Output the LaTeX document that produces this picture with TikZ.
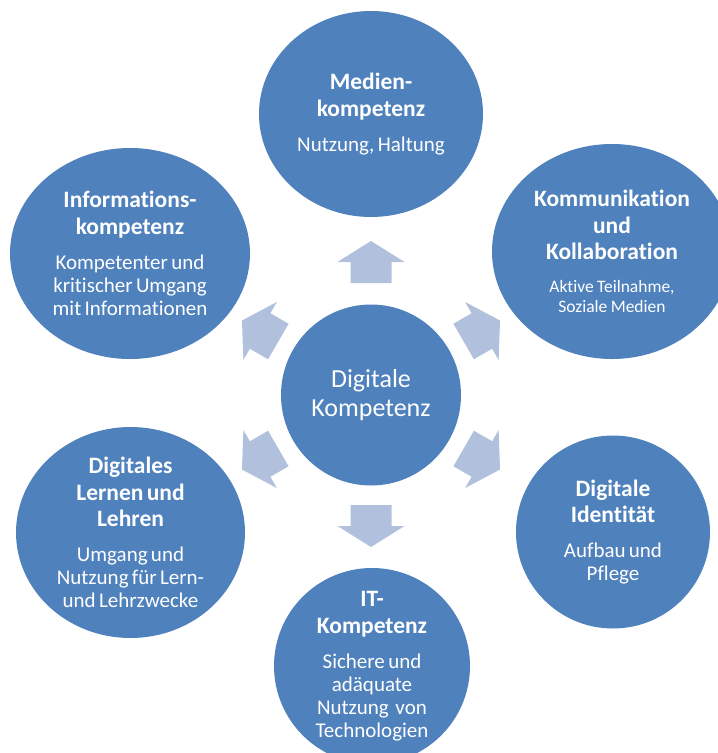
\documentclass[tikz,border=0pt]{standalone}
\usepackage{fontspec}
\setmainfont{Carlito}[Ligatures={NoCommon,NoRare,NoDiscretionary}]
\usetikzlibrary{shapes.geometric}
\definecolor{kreisblau}{RGB}{79,129,189}
\definecolor{pfeilblau}{RGB}{177,193,221}
\newcommand{\kopf}[1]{{\fontsize{23.5}{26.5}\selectfont\bfseries #1\par}}
\newcommand{\unter}[1]{\vspace{12pt}{\fontsize{21}{23}\selectfont #1\par}}
\newcommand{\unterklein}[1]{\vspace{13pt}{\fontsize{17.5}{20}\selectfont #1\par}}

\begin{document}
\begin{tikzpicture}[x=1pt,y=-1pt]
        \tikzstyle{every node}+=[inner sep=0pt]
        \tikzstyle{kreis}=[ellipse, fill=kreisblau]
        \tikzstyle{schrift}=[text=white, text width=230pt, align=center]
        \tikzstyle{pfeil}=[fill=pfeilblau]
        \useasboundingbox (0,0) rectangle (718,753);
        \clip (0,0) rectangle (718,753);
        \node [kreis, minimum width=180pt, minimum height=181pt] (zentrum) at (371,395) {};
        \node [kreis, minimum width=224pt, minimum height=206pt] (medien) at (371,114) {};
        \node [kreis, minimum width=240pt, minimum height=215pt] (kommunikation) at (612,251.5) {};
        \node [kreis, minimum width=194pt, minimum height=193pt] (identitaet) at (613,532) {};
        \node [kreis, minimum width=196pt, minimum height=196pt] (itkompetenz) at (372,666) {};
        \node [kreis, minimum width=229pt, minimum height=211pt] (lernen) at (130.5,532.5) {};
        \node [kreis, minimum width=240pt, minimum height=211pt] (information) at (130,253.5) {};
        \node [schrift, font=\fontsize{26}{29}\selectfont] (zentrumtext) at (zentrum) {Digitale\\Kompetenz};
        \node [schrift] (medientext) at (medien) {\kopf{Medien-\\kompetenz}\unter{Nutzung, Haltung}};
        \node [schrift] (kommunikationtext) at (kommunikation) {\kopf{Kommunikation\\und\\Kollaboration}\unterklein{Aktive Teilnahme,\\Soziale Medien}};
        \node [schrift] (identitaettext) at (identitaet) {\kopf{Digitale\\Identität}\unter{Aufbau und\\Pflege}};
        \node [schrift] (itkompetenztext) at (itkompetenz) {\kopf{IT-\\Kompetenz}\unter{Sichere und\\adäquate\\Nutzung~ von\\Technologien}};
        \node [schrift] (lernentext) at (lernen) {\kopf{Digitales\\Lernen und\\Lehren}\unter{Umgang und\\Nutzung für Lern-\\und Lehrzwecke}};
        \node [schrift] (informationtext) at (information) {\kopf{Informations-\\kompetenz}\unter{Kompetenter und\\kritischer Umgang\\mit Informationen}};
        \foreach \w/\r in {90/112,30/107,-30/107,-90/110,-150/107,150/107}
          \fill [pfeil, shift={(zentrum.center)}, rotate=\w] (\r,-20.5) -- ++(21,0) -- ++(0,-13) -- ++(21,33.5) -- ++(-21,33.5) -- ++(0,-13) -- ++(-21,0) -- cycle;
\end{tikzpicture}
\end{document}
